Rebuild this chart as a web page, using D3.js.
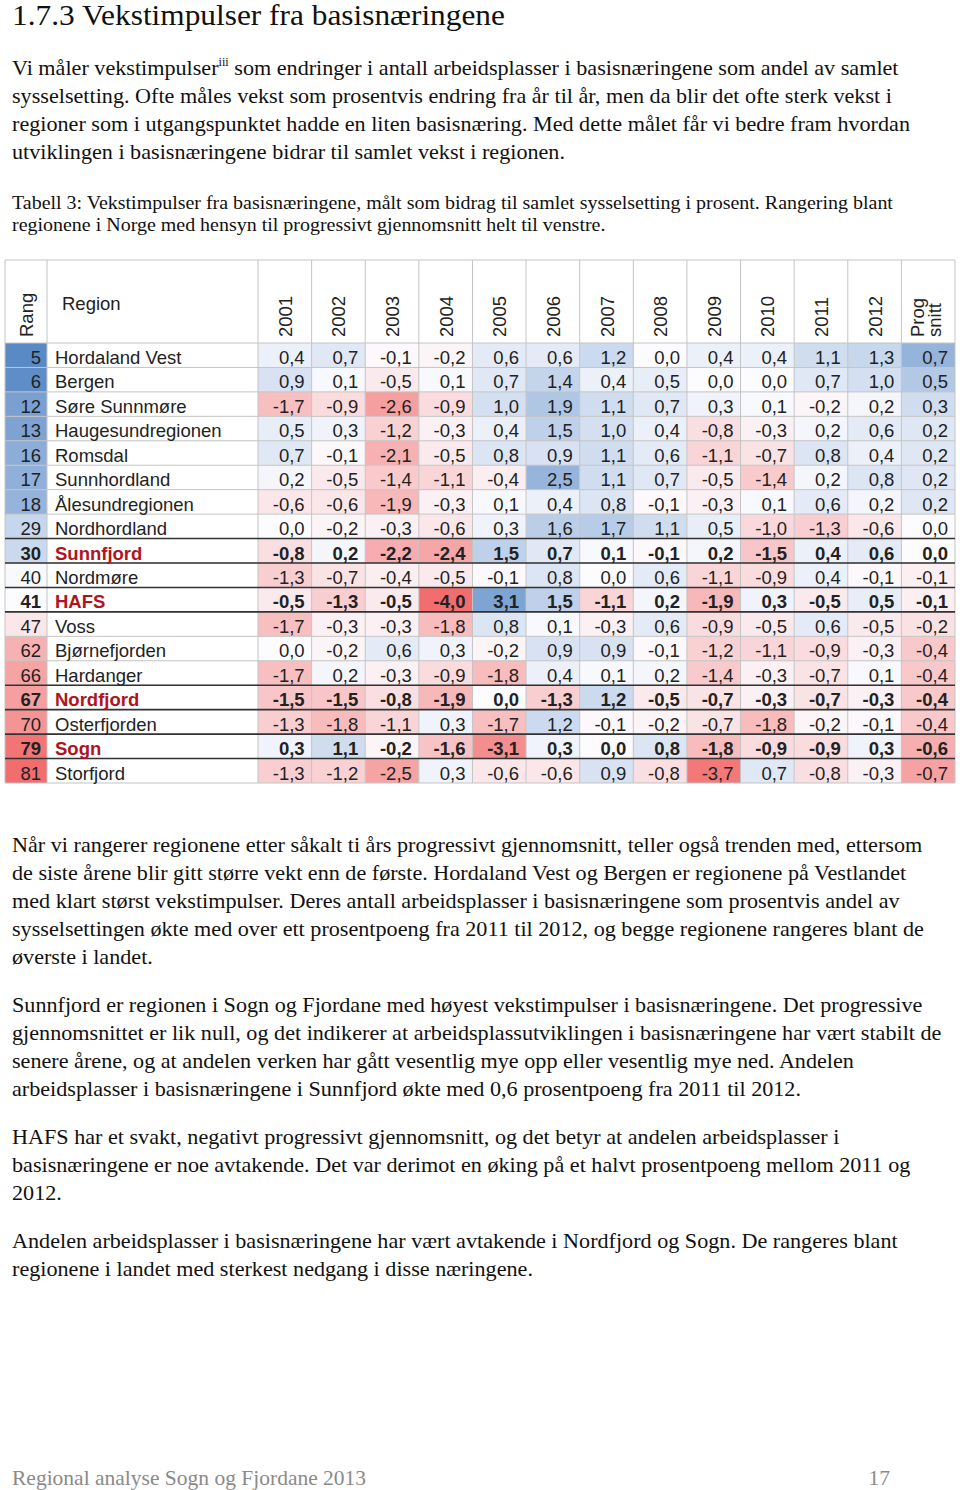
<!DOCTYPE html>
<html><head><meta charset="utf-8">
<script src="https://cdn.jsdelivr.net/npm/d3@7"></script>
<style>body{margin:0;background:#fff}svg{display:block}</style>
</head><body><svg id="c" width="960" height="1490"></svg>
<script>
// ---------- DATA ----------
const years = ["2001","2002","2003","2004","2005","2006","2007","2008","2009","2010","2011","2012"];
const regions = ["Hordaland Vest","Bergen","Søre Sunnmøre","Haugesundregionen","Romsdal","Sunnhordland","Ålesundregionen","Nordhordland","Sunnfjord","Nordmøre","HAFS","Voss","Bjørnefjorden","Hardanger","Nordfjord","Osterfjorden","Sogn","Storfjord"];
const ranks = [5,6,12,13,16,17,18,29,30,40,41,47,62,66,67,70,79,81];
const highlighted = ["Sunnfjord","HAFS","Nordfjord","Sogn"];
const v2001 = [0.4,0.9,-1.7,0.5,0.7,0.2,-0.6,0.0,-0.8,-1.3,-0.5,-1.7,0.0,-1.7,-1.5,-1.3,0.3,-1.3];
const v2002 = [0.7,0.1,-0.9,0.3,-0.1,-0.5,-0.6,-0.2,0.2,-0.7,-1.3,-0.3,-0.2,0.2,-1.5,-1.8,1.1,-1.2];
const v2003 = [-0.1,-0.5,-2.6,-1.2,-2.1,-1.4,-1.9,-0.3,-2.2,-0.4,-0.5,-0.3,0.6,-0.3,-0.8,-1.1,-0.2,-2.5];
const v2004 = [-0.2,0.1,-0.9,-0.3,-0.5,-1.1,-0.3,-0.6,-2.4,-0.5,-4.0,-1.8,0.3,-0.9,-1.9,0.3,-1.6,0.3];
const v2005 = [0.6,0.7,1.0,0.4,0.8,-0.4,0.1,0.3,1.5,-0.1,3.1,0.8,-0.2,-1.8,0.0,-1.7,-3.1,-0.6];
const v2006 = [0.6,1.4,1.9,1.5,0.9,2.5,0.4,1.6,0.7,0.8,1.5,0.1,0.9,0.4,-1.3,1.2,0.3,-0.6];
const v2007 = [1.2,0.4,1.1,1.0,1.1,1.1,0.8,1.7,0.1,0.0,-1.1,-0.3,0.9,0.1,1.2,-0.1,0.0,0.9];
const v2008 = [0.0,0.5,0.7,0.4,0.6,0.7,-0.1,1.1,-0.1,0.6,0.2,0.6,-0.1,0.2,-0.5,-0.2,0.8,-0.8];
const v2009 = [0.4,0.0,0.3,-0.8,-1.1,-0.5,-0.3,0.5,0.2,-1.1,-1.9,-0.9,-1.2,-1.4,-0.7,-0.7,-1.8,-3.7];
const v2010 = [0.4,0.0,0.1,-0.3,-0.7,-1.4,0.1,-1.0,-1.5,-0.9,0.3,-0.5,-1.1,-0.3,-0.3,-1.8,-0.9,0.7];
const v2011 = [1.1,0.7,-0.2,0.2,0.8,0.2,0.6,-1.3,0.4,0.4,-0.5,0.6,-0.9,-0.7,-0.7,-0.2,-0.9,-0.8];
const v2012 = [1.3,1.0,0.2,0.6,0.4,0.8,0.2,-0.6,0.6,-0.1,0.5,-0.5,-0.3,0.1,-0.3,-0.1,0.3,-0.3];
const progSnitt = [0.7,0.5,0.3,0.2,0.2,0.2,0.2,0.0,0.0,-0.1,-0.1,-0.2,-0.4,-0.4,-0.4,-0.4,-0.6,-0.7];
const headerLabels = ["Rang","Region"];
const progLabel = ["Prog","snitt"];

// ---------- TEXT ----------
const heading = "1.7.3 Vekstimpulser fra basisnæringene";
const intro = [
 ["Vi måler vekstimpulser", "iii", " som endringer i antall arbeidsplasser i basisnæringene som andel av samlet"],
 ["sysselsetting. Ofte måles vekst som prosentvis endring fra år til år, men da blir det ofte sterk vekst i"],
 ["regioner som i utgangspunktet hadde en liten basisnæring. Med dette målet får vi bedre fram hvordan"],
 ["utviklingen i basisnæringene bidrar til samlet vekst i regionen."]
];
const caption = [
 "Tabell 3: Vekstimpulser fra basisnæringene, målt som bidrag til samlet sysselsetting i prosent. Rangering blant",
 "regionene i Norge med hensyn til progressivt gjennomsnitt helt til venstre."
];
const para2 = [
 "Når vi rangerer regionene etter såkalt ti års progressivt gjennomsnitt, teller også trenden med, ettersom",
 "de siste årene blir gitt større vekt enn de første. Hordaland Vest og Bergen er regionene på Vestlandet",
 "med klart størst vekstimpulser. Deres antall arbeidsplasser i basisnæringene som prosentvis andel av",
 "sysselsettingen økte med over ett prosentpoeng fra 2011 til 2012, og begge regionene rangeres blant de",
 "øverste i landet."
];
const para3 = [
 "Sunnfjord er regionen i Sogn og Fjordane med høyest vekstimpulser i basisnæringene. Det progressive",
 "gjennomsnittet er lik null, og det indikerer at arbeidsplassutviklingen i basisnæringene har vært stabilt de",
 "senere årene, og at andelen verken har gått vesentlig mye opp eller vesentlig mye ned. Andelen",
 "arbeidsplasser i basisnæringene i Sunnfjord økte med 0,6 prosentpoeng fra 2011 til 2012."
];
const para4 = [
 "HAFS har et svakt, negativt progressivt gjennomsnitt, og det betyr at andelen arbeidsplasser i",
 "basisnæringene er noe avtakende. Det var derimot en øking på et halvt prosentpoeng mellom 2011 og",
 "2012."
];
const para5 = [
 "Andelen arbeidsplasser i basisnæringene har vært avtakende i Nordfjord og Sogn. De rangeres blant",
 "regionene i landet med sterkest nedgang i disse næringene."
];
const footerLeft = "Regional analyse Sogn og Fjordane 2013";
const footerRight = "17";

// ---------- DRAW ----------
const svg = d3.select("#c");
const serif = "'Liberation Serif','Times New Roman',serif";
const sans = "'Liberation Sans',Arial,Helvetica,sans-serif";

svg.append("text").attr("transform","translate(12,25) scale(1.045,1)").attr("font-family",serif)
  .attr("font-size",30).attr("fill","#111").text(heading);

function drawLines(lines, y0, lh, size, sx, color){
  lines.forEach((ln,i)=>{
    const t = svg.append("text").attr("transform",`translate(12,${y0+i*lh}) scale(${sx},1)`)
      .attr("font-family",serif).attr("font-size",size).attr("fill",color||"#111");
    if (Array.isArray(ln)) {
      ln.forEach((part,j)=>{
        const ts = t.append("tspan").text(part);
        if (j===1) ts.attr("font-size",size*0.55).attr("dy",-size*0.42);
        if (j===2) ts.attr("dy",size*0.42);
      });
    } else t.text(ln);
  });
}
drawLines(intro, 75, 28, 21, 1.055);
drawLines(caption, 209, 22, 18, 1.11);
drawLines(para2, 852, 28, 21, 1.055);
drawLines(para3, 1012, 28, 21, 1.055);
drawLines(para4, 1144, 28, 21, 1.055);
drawLines(para5, 1248, 28, 21, 1.055);
svg.append("text").attr("transform","translate(12,1485) scale(1.0,1)").attr("font-family",serif)
  .attr("font-size",21.5).attr("fill","#8a8a8a").text(footerLeft);
svg.append("text").attr("x",890).attr("y",1485).attr("text-anchor","end").attr("font-family",serif)
  .attr("font-size",21.5).attr("fill","#8a8a8a").text(footerRight);

// table
const series = {};
years.forEach((yr,i)=>{ series[yr] = [v2001,v2002,v2003,v2004,v2005,v2006,v2007,v2008,v2009,v2010,v2011,v2012][i]; });
series["Prog"] = progSnitt;
const cols = years.concat(["Prog"]);

const tableTop = 260, headBottom = 343, tableBottom = 783;
const rangX0 = 5, rangX1 = 47, regionX1 = 258, tableRight = 955;

const x = d3.scaleBand().domain(cols).range([regionX1, tableRight]);
const y = d3.scaleBand().domain(regions).range([headBottom, tableBottom]);

const red = "#F26D6D", white = "#FCFCFF", blue = "#5A8AC6";
const yearColor = d3.scaleLinear().domain([-4.0,0,4.0]).range([red,white,blue]).clamp(true);
const progColor = d3.scaleLinear().domain([-1.1,0,1.1]).range([red,white,blue]).clamp(true);
const rankColor = d3.scaleLinear().domain([81,41,5]).range([red,white,blue]).clamp(true);

const fmt = d3.formatLocale({decimal:",",thousands:" ",grouping:[3],currency:["",""],minus:"-"}).format(".1f");

const g = svg.append("g");
g.selectAll("rect.rank").data(regions).join("rect")
  .attr("x",rangX0).attr("y",d=>y(d)).attr("width",rangX1-rangX0).attr("height",y.bandwidth())
  .attr("fill",(d,i)=>rankColor(ranks[i]));
cols.forEach(c=>{
  const sc = c==="Prog" ? progColor : yearColor;
  g.selectAll(null).data(regions).join("rect")
    .attr("x",x(c)).attr("y",d=>y(d)).attr("width",x.bandwidth()).attr("height",y.bandwidth())
    .attr("fill",(d,i)=>sc(series[c][i]));
});

const gridColor = "#c4c4c4";
const vx = [rangX0, rangX1, regionX1].concat(cols.map(c=>x(c)+x.bandwidth()));
g.selectAll("line.v").data(vx).join("line")
  .attr("x1",d=>d).attr("x2",d=>d).attr("y1",tableTop).attr("y2",tableBottom)
  .attr("stroke",gridColor).attr("stroke-width",1);
const hy = [tableTop, headBottom].concat(regions.map(r=>y(r)+y.bandwidth()));
g.selectAll("line.h").data(hy).join("line")
  .attr("x1",rangX0).attr("x2",tableRight).attr("y1",d=>d).attr("y2",d=>d)
  .attr("stroke",gridColor).attr("stroke-width",1);
const hb = [];
highlighted.forEach(r=>{ hb.push(y(r)); hb.push(y(r)+y.bandwidth()); });
g.selectAll("line.hb").data(hb).join("line")
  .attr("x1",rangX0).attr("x2",tableRight).attr("y1",d=>d).attr("y2",d=>d)
  .attr("stroke","#333").attr("stroke-width",1.6);

const fs = 18.5;
g.append("text").attr("transform",`translate(33,${headBottom-6}) rotate(-90)`)
  .attr("font-family",sans).attr("font-size",fs).attr("fill","#222").text(headerLabels[0]);
g.append("text").attr("x",62).attr("y",310)
  .attr("font-family",sans).attr("font-size",fs).attr("fill","#222").text(headerLabels[1]);
years.forEach(yr=>{
  g.append("text").attr("transform",`translate(${x(yr)+x.bandwidth()/2+7},${headBottom-6}) rotate(-90)`)
    .attr("font-family",sans).attr("font-size",fs).attr("fill","#222").text(yr);
});
progLabel.forEach((t,i)=>{
  g.append("text").attr("transform",`translate(${x("Prog")+x.bandwidth()/2-4+i*17},${headBottom-6}) rotate(-90)`)
    .attr("font-family",sans).attr("font-size",fs).attr("fill","#222").text(t);
});

regions.forEach((r,i)=>{
  const bold = highlighted.includes(r);
  const by = y(r)+y.bandwidth()-3.5;
  g.append("text").attr("x",41).attr("y",by).attr("text-anchor","end")
    .attr("font-family",sans).attr("font-size",fs).attr("font-weight",bold?"bold":"normal")
    .attr("fill","#222").text(ranks[i]);
  g.append("text").attr("x",55).attr("y",by)
    .attr("font-family",sans).attr("font-size",fs).attr("font-weight",bold?"bold":"normal")
    .attr("fill",bold?"#b0141c":"#222").text(r);
  cols.forEach(c=>{
    g.append("text").attr("x",x(c)+x.bandwidth()-7).attr("y",by).attr("text-anchor","end")
      .attr("font-family",sans).attr("font-size",fs).attr("font-weight",bold?"bold":"normal")
      .attr("fill","#222").text(fmt(series[c][i]));
  });
});
</script></body></html>
